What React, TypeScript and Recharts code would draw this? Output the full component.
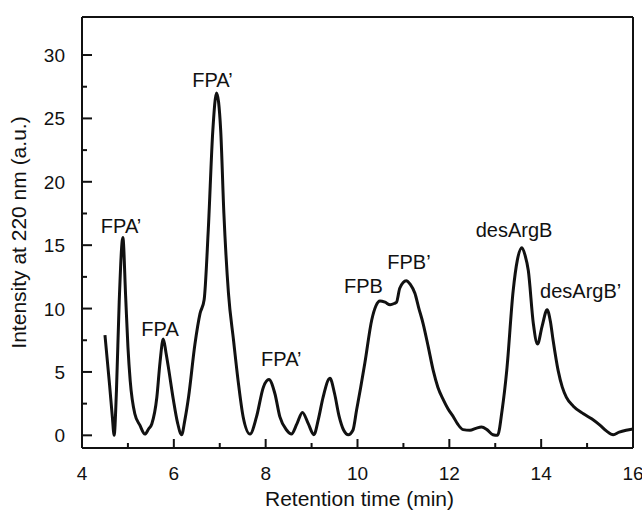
import React from 'react';
import { ComposedChart, Line, Scatter, XAxis, YAxis, ReferenceLine, Label } from 'recharts';

const times = [4.5, 4.6, 4.66, 4.7, 4.75, 4.81, 4.89, 4.95, 5.0, 5.05, 5.15, 5.26, 5.37, 5.45, 5.52, 5.63, 5.7, 5.77, 5.83, 5.88, 5.99, 6.08, 6.17, 6.24, 6.32, 6.46, 6.57, 6.66, 6.75, 6.85, 6.93, 7.02, 7.09, 7.19, 7.3, 7.4, 7.51, 7.66, 7.8, 7.95, 8.07, 8.2, 8.31, 8.46, 8.56, 8.68, 8.8, 8.93, 9.05, 9.15, 9.25, 9.4, 9.5, 9.6, 9.7, 9.8, 9.9, 9.98, 10.07, 10.16, 10.31, 10.4, 10.49, 10.6, 10.71, 10.8, 10.85, 10.92, 11.06, 11.15, 11.25, 11.33, 11.43, 11.54, 11.65, 11.75, 11.87, 11.97, 12.09, 12.18, 12.3, 12.45, 12.58, 12.7, 12.82, 12.95, 13.05, 13.15, 13.25, 13.39, 13.48, 13.58, 13.65, 13.72, 13.83, 13.92, 14.02, 14.13, 14.2, 14.26, 14.37, 14.46, 14.55, 14.7, 14.92, 15.1, 15.28, 15.42, 15.57, 15.7, 15.85, 16.0];
const intensity = [7.9, 4.0, 1.5, 0.0, 3.5, 10.5, 15.6, 11.0, 7.0, 4.3, 1.7, 0.8, 0.1, 0.5, 0.9, 3.0, 5.8, 7.6, 6.5, 5.4, 2.8, 1.0, 0.05, 1.2, 3.0, 7.2, 9.6, 10.7, 16.2, 24.1, 27.0, 24.1, 17.5, 11.2, 7.5, 4.3, 1.45, 0.1, 1.45, 3.8, 4.4, 3.3, 1.45, 0.4, 0.1, 0.9, 1.8, 0.9, 0.05, 1.3, 3.0, 4.5, 3.3, 1.5, 0.4, 0.05, 0.4, 2.0, 3.8, 5.7, 9.1, 10.2, 10.6, 10.5, 10.3, 10.4, 10.5, 11.6, 12.2, 11.9, 11.2, 10.1, 8.8, 7.0, 5.1, 3.8, 2.8, 2.1, 1.45, 0.9, 0.45, 0.4, 0.55, 0.65, 0.45, 0.05, 0.0, 2.0, 5.1, 11.4, 13.8, 14.8, 14.2, 13.0, 8.8, 7.2, 8.6, 9.9, 9.0, 7.5, 5.1, 3.8, 3.0, 2.3, 1.7, 1.3, 0.8, 0.35, 0.05, 0.25, 0.4, 0.5];

const peakNames = ['FPA\u2019', 'FPA', 'FPA\u2019', 'FPA\u2019', 'FPB', 'FPB\u2019', 'desArgB', 'desArgB\u2019'];
const peakNameTimes = [4.85, 5.7, 6.84, 8.34, 10.13, 11.12, 13.41, 14.86];
const peakNameHeights = [15.95, 7.8, 27.5, 5.45, 11.2, 13.15, 15.65, 10.8];

const xTicks = [4, 5, 6, 7, 8, 9, 10, 11, 12, 13, 14, 15, 16];
const yTicks = [0, 2.5, 5, 7.5, 10, 12.5, 15, 17.5, 20, 22.5, 25, 27.5, 30];
const xMajor = [4, 6, 8, 10, 12, 14, 16];
const yMajor = [0, 5, 10, 15, 20, 25, 30];

const xTitle = 'Retention time (min)';
const yTitle = 'Intensity at 220 nm (a.u.)';

const FONT = '"Liberation Sans", Arial, Helvetica, sans-serif';
const INK = '#111';

const trace = times.map((t, i) => ({ t, v: intensity[i] }));
const labels = peakNames.map((name, i) => ({ t: peakNameTimes[i], v: peakNameHeights[i], name }));

const XTick = (props: any) => {
  const { x, y, payload } = props;
  const major = xMajor.includes(payload.value);
  return (
    <g>
      <line x1={x} x2={x} y1={y} y2={y - (major ? 9 : 5)} stroke={INK} strokeWidth={2} />
      {major && (
        <text x={x} y={y + 32} textAnchor="middle" fontSize={19} fontFamily={FONT} fill={INK}>
          {payload.value}
        </text>
      )}
    </g>
  );
};

const YTick = (props: any) => {
  const { x, y, payload } = props;
  const major = yMajor.includes(payload.value);
  return (
    <g>
      <line x1={x} x2={x + (major ? 10 : 5)} y1={y} y2={y} stroke={INK} strokeWidth={2} />
      {major && (
        <text x={x - 17} y={y + 7} textAnchor="end" fontSize={19} fontFamily={FONT} fill={INK}>
          {payload.value}
        </text>
      )}
    </g>
  );
};

const PeakLabel = (props: any) => {
  const { cx, cy, payload } = props;
  return (
    <text x={cx} y={cy} textAnchor="middle" fontSize={20} fontFamily={FONT} fill={INK}>
      {payload.name}
    </text>
  );
};

export default function App() {
  return (
    <div style={{ position: 'absolute', left: 0, top: 0, width: 642, height: 510, background: '#fff' }}>
      <ComposedChart width={642} height={510} margin={{ top: 17, right: 9, bottom: 0, left: 0 }}>
        <XAxis
          dataKey="t"
          type="number"
          domain={[4, 16]}
          ticks={xTicks}
          interval={0}
          allowDataOverflow
          height={62}
          tickSize={0}
          tickMargin={0}
          tickLine={false}
          tick={<XTick />}
          axisLine={{ stroke: INK, strokeWidth: 2 }}
        >
          <Label
            content={(p: any) => {
              const vb = p.viewBox || { x: 82, y: 448, width: 551, height: 62 };
              return (
                <text x={vb.x + vb.width / 2 + 2} y={vb.y + 58} textAnchor="middle" fontSize={21} fontFamily={FONT} fill={INK}>
                  {xTitle}
                </text>
              );
            }}
          />
        </XAxis>
        <YAxis
          type="number"
          domain={[-1, 33]}
          ticks={yTicks}
          interval={0}
          allowDataOverflow
          width={82}
          tickSize={0}
          tickMargin={0}
          tickLine={false}
          tick={<YTick />}
          axisLine={{ stroke: INK, strokeWidth: 2 }}
        >
          <Label
            content={(p: any) => {
              const vb = p.viewBox || { x: 0, y: 17, width: 82, height: 431 };
              const cx = vb.x + vb.width - 56;
              const cy = vb.y + vb.height / 2;
              return (
                <text x={0} y={0} transform={`translate(${cx}, ${cy}) rotate(-90)`} textAnchor="middle" fontSize={21} fontFamily={FONT} fill={INK}>
                  {yTitle}
                </text>
              );
            }}
          />
        </YAxis>
        <ReferenceLine y={33} stroke={INK} strokeWidth={2} />
        <ReferenceLine x={16} stroke={INK} strokeWidth={2} />
        <Line
          data={trace}
          dataKey="v"
          type="monotone"
          stroke={INK}
          strokeWidth={3}
          dot={false}
          activeDot={false}
          isAnimationActive={false}
        />
        <Scatter data={labels} dataKey="v" shape={<PeakLabel />} isAnimationActive={false} />
      </ComposedChart>
    </div>
  );
}
